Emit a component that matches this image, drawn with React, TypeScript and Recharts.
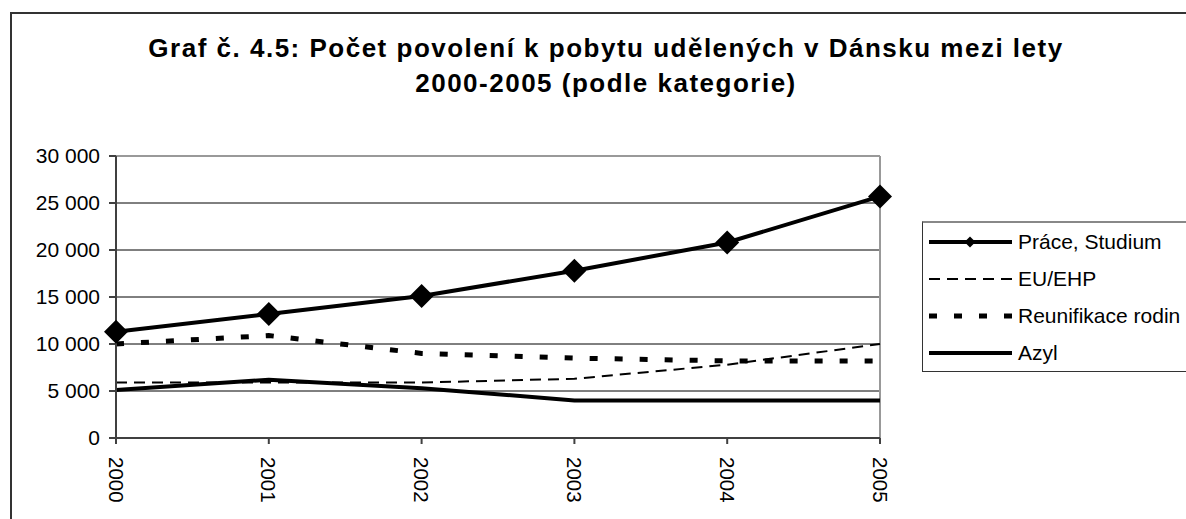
import React from 'react';
import { LineChart, Line, XAxis, YAxis, CartesianGrid, ReferenceLine } from 'recharts';

const years = ['2000', '2001', '2002', '2003', '2004', '2005'];
const praceStudium = [11300, 13200, 15100, 17800, 20800, 25700];
const euEhp = [5900, 5900, 5900, 6300, 7800, 10000];
const reunifikace = [10000, 10900, 9000, 8500, 8200, 8200];
const azyl = [5100, 6200, 5300, 4000, 4000, 4000];
const yTicks = [0, 5000, 10000, 15000, 20000, 25000, 30000];

const seriesNames = ['Práce, Studium', 'EU/EHP', 'Reunifikace rodin', 'Azyl'];

const data = years.map((year, i) => ({
  year,
  prace: praceStudium[i],
  eu: euEhp[i],
  reun: reunifikace[i],
  azyl: azyl[i],
}));

const FONT = '"Liberation Sans", Arial, sans-serif';

// "30 000" style numbers
const fmt = (v: number) => String(v).replace(/\B(?=(\d{3})+(?!\d))/g, ' ');

const Diamond = (props: any) => {
  const { cx, cy, index } = props;
  if (cx == null || cy == null) return <g key={`d-${index}`} />;
  const r = 12;
  return (
    <path
      key={`d-${index}`}
      d={`M${cx},${cy - r} L${cx + r},${cy} L${cx},${cy + r} L${cx - r},${cy} Z`}
      fill="#000"
    />
  );
};

const YearTick = (props: any) => {
  const { x, y, payload } = props;
  return (
    <text
      x={0}
      y={0}
      dy="0.36em"
      transform={`translate(${x},${y + 11}) rotate(90)`}
      textAnchor="start"
      fontSize={20.5}
      fontFamily={FONT}
      fill="#000"
    >
      {payload.value}
    </text>
  );
};

const legendSamples = [
  { stroke: 4, dash: undefined, marker: true },
  { stroke: 2, dash: '11 7', marker: false },
  { stroke: 5, dash: '8 17', marker: false },
  { stroke: 4, dash: undefined, marker: false },
];

const LegendBox = () => (
  <div
    style={{
      position: 'absolute',
      left: 922,
      top: 221,
      width: 300,
      height: 151,
      borderTop: '2px solid #888',
      borderLeft: '1px solid #333',
      borderBottom: '1px solid #333',
      background: '#fff',
      boxSizing: 'border-box',
    }}
  >
    {seriesNames.map((name, i) => {
      const s = legendSamples[i];
      return (
        <div key={name} style={{ height: 37, display: 'flex', alignItems: 'center' }}>
          <svg width={95} height={20} style={{ flex: 'none' }}>
            <line x1={6} y1={10} x2={89} y2={10} stroke="#000" strokeWidth={s.stroke} strokeDasharray={s.dash} />
            {s.marker && <path d="M47,4.5 L52.5,10 L47,15.5 L41.5,10 Z" fill="#000" />}
          </svg>
          <span style={{ fontFamily: FONT, fontSize: 21, color: '#000', whiteSpace: 'nowrap' }}>{name}</span>
        </div>
      );
    })}
  </div>
);

export default function App() {
  return (
    <div style={{ position: 'fixed', left: 0, top: 0, width: 1186, height: 519, overflow: 'hidden', background: '#fff' }}>
      <div
        style={{
          position: 'absolute',
          left: 10,
          top: 12,
          width: 1300,
          height: 600,
          border: '2px solid #333',
          boxSizing: 'border-box',
        }}
      />
      <div
        style={{
          position: 'absolute',
          left: 0,
          top: 31,
          width: 1212,
          textAlign: 'center',
          fontFamily: FONT,
          fontWeight: 'bold',
          fontSize: 26,
          letterSpacing: 1.5,
          lineHeight: '35px',
          color: '#000',
        }}
      >
        <div>Graf č. 4.5: Počet povolení k pobytu udělených v Dánsku mezi lety</div>
        <div>2000-2005 (podle kategorie)</div>
      </div>
      <div style={{ position: 'absolute', left: 0, top: 0 }}>
        <LineChart width={1186} height={519} data={data} margin={{ top: 156, right: 306, bottom: 21, left: 56 }}>
          <CartesianGrid vertical={false} stroke="#000" strokeWidth={1} />
          <ReferenceLine y={30000} stroke="#999" strokeWidth={2} />
          <ReferenceLine x="2005" stroke="#999" strokeWidth={2} />
          <XAxis
            dataKey="year"
            scale="point"
            padding={{ left: 0, right: 0 }}
            height={60}
            interval={0}
            tickSize={6}
            stroke="#404040"
            strokeWidth={2}
            tick={<YearTick />}
          />
          <YAxis
            width={60}
            domain={[0, 30000]}
            ticks={yTicks}
            interval={0}
            tickSize={7}
            tickMargin={9}
            tickFormatter={fmt}
            stroke="#404040"
            strokeWidth={2}
            tick={{ fontSize: 21, fontFamily: FONT, fill: '#000' }}
          />
          <Line dataKey="eu" name={seriesNames[1]} stroke="#000" strokeWidth={2} strokeDasharray="11 7" dot={false} isAnimationActive={false} />
          <Line dataKey="reun" name={seriesNames[2]} stroke="#000" strokeWidth={5} strokeDasharray="8 17" dot={false} isAnimationActive={false} />
          <Line dataKey="azyl" name={seriesNames[3]} stroke="#000" strokeWidth={4} dot={false} isAnimationActive={false} />
          <Line dataKey="prace" name={seriesNames[0]} stroke="#000" strokeWidth={4} dot={<Diamond />} isAnimationActive={false} />
        </LineChart>
      </div>
      <LegendBox />
    </div>
  );
}
